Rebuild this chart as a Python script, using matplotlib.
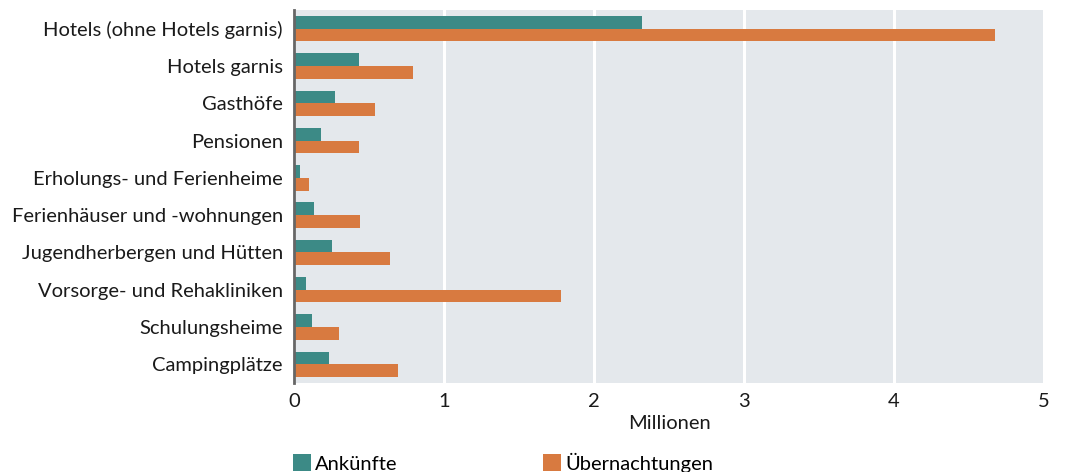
import matplotlib.pyplot as plt
import numpy as np

plt.rcParams['font.family'] = ['Lato', 'DejaVu Sans']

categories = [
    "Hotels (ohne Hotels garnis)", "Hotels garnis", "Gasthöfe", "Pensionen",
    "Erholungs- und Ferienheime", "Ferienhäuser und -wohnungen",
    "Jugendherbergen und Hütten", "Vorsorge- und Rehakliniken",
    "Schulungsheime", "Campingplätze",
]
ankuenfte = [2.32, 0.43, 0.27, 0.18, 0.04, 0.13, 0.25, 0.08, 0.12, 0.23]
uebernachtungen = [4.67, 0.79, 0.54, 0.43, 0.10, 0.44, 0.64, 1.78, 0.30, 0.69]

TEAL = "#3c8a86"
ORANGE = "#d87a40"
BG = "#e4e8ec"
FS = 14.5

fig = plt.figure(figsize=(10.66, 4.72), dpi=100)
ax = fig.add_axes([294 / 1066, 1 - 383 / 472, 750 / 1066, 373 / 472])

y = np.arange(len(categories))
h = 0.34
ax.barh(y - h / 2, ankuenfte, height=h, color=TEAL, label="Ankünfte", zorder=3)
ax.barh(y + h / 2, uebernachtungen, height=h, color=ORANGE, label="Übernachtungen", zorder=3)

ax.set_facecolor(BG)
ax.set_xlim(0, 5)
ax.set_ylim(len(categories) - 0.5, -0.5)
ax.set_yticks(y)
ax.set_yticklabels(categories, fontsize=FS, color="#1a1a1a")
ax.set_xticks([0, 1, 2, 3, 4, 5])
ax.tick_params(axis="x", labelsize=FS, length=0, pad=7, labelcolor="#1a1a1a")
ax.tick_params(axis="y", length=0, pad=8)
ax.grid(axis="x", color="white", linewidth=2.2, zorder=1)
for s in ["top", "right", "bottom"]:
    ax.spines[s].set_visible(False)
ax.spines["left"].set_color("#666666")
ax.spines["left"].set_linewidth(2)
ax.spines["left"].set_zorder(4)

ax.set_xlabel("Millionen", fontsize=FS, color="#1a1a1a", labelpad=4)

fig.legend(loc="lower left", bbox_to_anchor=(275 / 1066, -0.04), ncol=2,
           frameon=False, fontsize=FS, handlelength=0.9, handleheight=0.9,
           handletextpad=0.2, columnspacing=7.2)

fig.savefig("out.png", dpi=100)
